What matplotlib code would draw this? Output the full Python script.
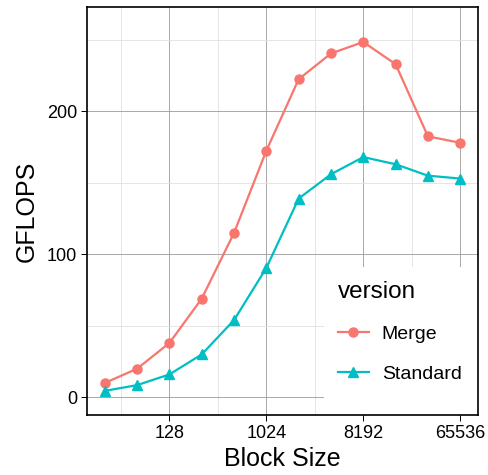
import numpy as np
import matplotlib
matplotlib.use('Agg')
import matplotlib.pyplot as plt
from matplotlib.patches import Rectangle
from matplotlib.ticker import NullFormatter

plt.rcParams['font.family'] = ['Liberation Sans', 'DejaVu Sans']

# data
block_size = [32, 64, 128, 256, 512, 1024, 2048, 4096, 8192, 16384, 32768, 65536]
merge = [10, 20, 38, 69, 115, 172.5, 222.5, 240.5, 248.5, 233, 182.5, 178]
standard = [4.5, 8.5, 16, 30, 54, 90.5, 139, 156, 168, 163, 155, 153]
x_ticks = [128, 1024, 8192, 65536]
x_minor = [2 ** 5.5, 2 ** 8.5, 2 ** 11.5, 2 ** 14.5]
y_ticks = [0, 100, 200]
y_minor = [50, 150, 250]

fig = plt.figure(figsize=(4.89, 4.75), dpi=100)
ax = fig.add_axes([0.178, 0.1263, 0.7995, 0.859])

ax.set_xscale('log', base=2)
ax.set_xlim(2 ** 4.45, 2 ** 16.55)
ax.set_ylim(-12.4, 273)

ax.set_xticks(x_ticks)
ax.set_xticklabels([str(v) for v in x_ticks])
ax.set_xticks(x_minor, minor=True)
ax.xaxis.set_minor_formatter(NullFormatter())
ax.set_yticks(y_ticks)
ax.set_yticklabels([str(v) for v in y_ticks])
ax.set_yticks(y_minor, minor=True)
ax.yaxis.set_minor_formatter(NullFormatter())

ax.set_axisbelow(True)
ax.grid(which='major', color='#9a9a9a', linewidth=0.6)
ax.grid(which='minor', color='#e0e0e0', linewidth=0.6)
ax.tick_params(which='major', length=4, width=0.7, color='black', labelsize=13, pad=3)
ax.tick_params(which='minor', length=0)
for s in ax.spines.values():
    s.set_linewidth(1.2)
    s.set_color('black')

# white legend background covering the grid
ax.add_patch(Rectangle((0.606, 0), 0.394, 0.363, transform=ax.transAxes,
                       facecolor='white', edgecolor='none', zorder=1))

ax.plot(block_size, merge, color='#F8766D', marker='o', markersize=6.5, linewidth=1.6,
        label='Merge', zorder=3)
ax.plot(block_size, standard, color='#00BFC4', marker='^', markersize=7, linewidth=1.6,
        label='Standard', zorder=3)

leg = ax.legend(loc='upper left', bbox_to_anchor=(0.597, 0.371), frameon=False,
                title='version', title_fontsize=17.5, fontsize=14, handlelength=1.6,
                alignment='left', labelspacing=1.15, handletextpad=0.65)

ax.set_xlabel('Block Size', fontsize=18, labelpad=4)
ax.set_ylabel('GFLOPS', fontsize=18, labelpad=6)

fig.savefig('out.png', dpi=100)
